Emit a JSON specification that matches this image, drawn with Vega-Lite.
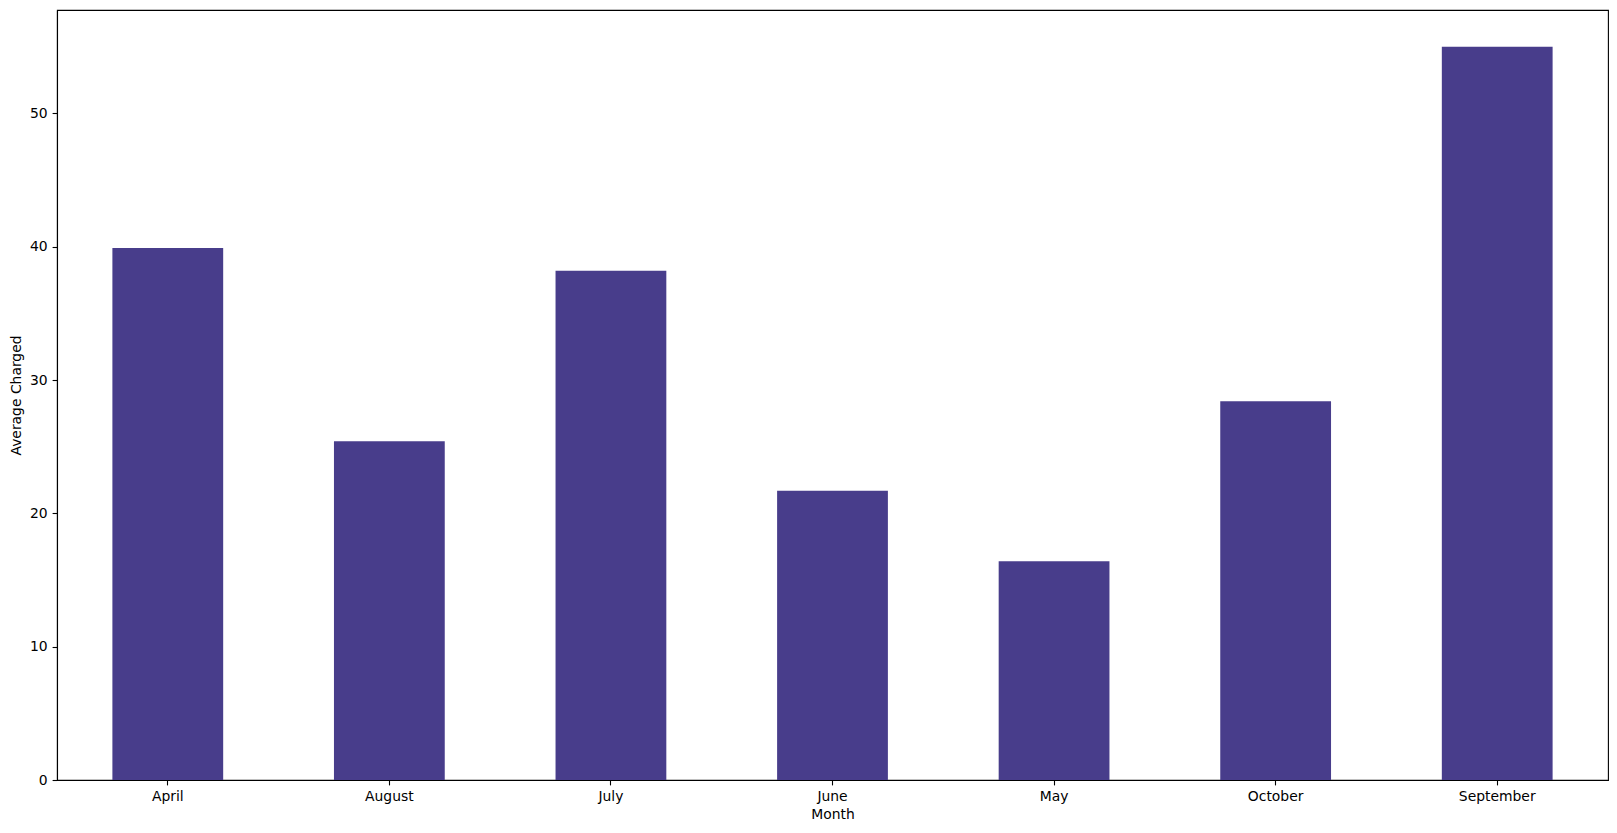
{
  "$schema": "https://vega.github.io/schema/vega-lite/v6.json",
  "width": 1551,
  "height": 770,
  "autosize": {"type": "none"},
  "padding": {"left": 57, "top": 10, "right": 9, "bottom": 53},
  "background": "white",
  "config": {
    "font": "DejaVu Sans",
    "view": {"stroke": "black", "strokeWidth": 1.1},
    "axis": {
      "domainColor": "black",
      "domainWidth": 1.1,
      "tickColor": "black",
      "tickWidth": 1.1,
      "tickSize": 4.9,
      "labelPadding": 4.9,
      "labelFontSize": 13.9,
      "labelColor": "black",
      "titleFontSize": 13.9,
      "titleFontWeight": "normal",
      "titleColor": "black",
      "grid": false
    }
  },
  "data": {
    "values": [
      {"month": "April", "avg_charged": 39.9},
      {"month": "August", "avg_charged": 25.4},
      {"month": "July", "avg_charged": 38.2},
      {"month": "June", "avg_charged": 21.7},
      {"month": "May", "avg_charged": 16.4},
      {"month": "October", "avg_charged": 28.4},
      {"month": "September", "avg_charged": 55.0}
    ]
  },
  "mark": {"type": "bar", "color": "#483D8B"},
  "encoding": {
    "x": {
      "field": "month",
      "type": "nominal",
      "title": "Month",
      "sort": "ascending",
      "scale": {"paddingInner": 0.5, "paddingOuter": 0.25},
      "axis": {"labelAngle": 0, "titlePadding": 4}
    },
    "y": {
      "field": "avg_charged",
      "type": "quantitative",
      "title": "Average Charged",
      "scale": {"domain": [0, 57.75], "nice": false, "zero": true},
      "axis": {"values": [0, 10, 20, 30, 40, 50], "titlePadding": 6}
    }
  }
}
